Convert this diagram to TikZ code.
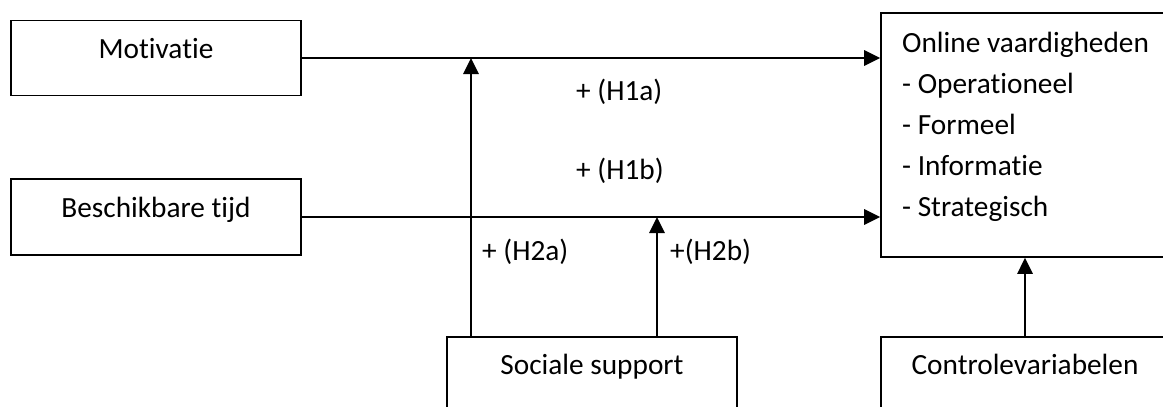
\documentclass[tikz,border=0pt]{standalone}
\usepackage{fontspec}
\setmainfont[Ligatures=NoCommon]{Carlito}
\usetikzlibrary{arrows.meta}
\tikzset{
  box/.style={draw=black, line width=1.6pt, rectangle, inner sep=0pt,
    minimum width=290pt, minimum height=75pt,
    text height=10pt, text depth=10pt},
  txt/.style={inner sep=0pt, font=\fontsize{29.3}{35}\selectfont},
  arr/.style={line width=2.8pt, -{Triangle[length=16pt,width=15pt]}},
}
\begin{document}
\begin{tikzpicture}[x=1pt,y=-1pt]
\useasboundingbox (0,0) rectangle (1163,407);
\clip (0,0) rectangle (1163,407);
% boxes
\node[box, font=\fontsize{29.3}{35}\selectfont] (mot) at (156,58) {Motivatie};
\node[box, font=\fontsize{29.3}{35}\selectfont, minimum height=76pt] (bt) at (156,217) {Beschikbare tijd};
\node[box, font=\fontsize{29.3}{35}\selectfont] (ss) at (592,374.5) {Sociale support};
\node[box, font=\fontsize{29.3}{35}\selectfont, minimum width=288pt] (cv) at (1025,374.5) {Controlevariabelen};
\node[box, minimum width=288pt, minimum height=244pt, text height=0pt, text depth=0pt] (ov) at (1025,135) {};
% text of outcome box
\node[txt, anchor=base west] (o1) at (902,52) {Online vaardigheden};
\node[txt, anchor=base west] (o2) at (902,93) {- Operationeel};
\node[txt, anchor=base west] (o3) at (902,134) {- Formeel};
\node[txt, anchor=base west] (o4) at (902,175) {- Informatie};
\node[txt, anchor=base west] (o5) at (902,216) {- Strategisch};
% junctions
\coordinate (ja) at (471,58);
\coordinate (jb) at (657,217);
% connectors
\draw[arr] (mot.east) -- (ov.west |- mot.east);
\draw[arr] (bt.east) -- (ov.west |- bt.east);
\draw[arr] (ss.north -| ja) -- (ja);
\draw[arr] (ss.north -| jb) -- (jb);
\draw[arr] (cv.north) -- (ov.south);
% labels
\node[txt, anchor=base west] (h1a) at (576,100) {+ (H1a)};
\node[txt, anchor=base west] (h1b) at (576,179) {+ (H1b)};
\node[txt, anchor=base west] (h2a) at (482,260) {+ (H2a)};
\node[txt, anchor=base west] (h2b) at (670,260) {+(H2b)};
\end{tikzpicture}
\end{document}
